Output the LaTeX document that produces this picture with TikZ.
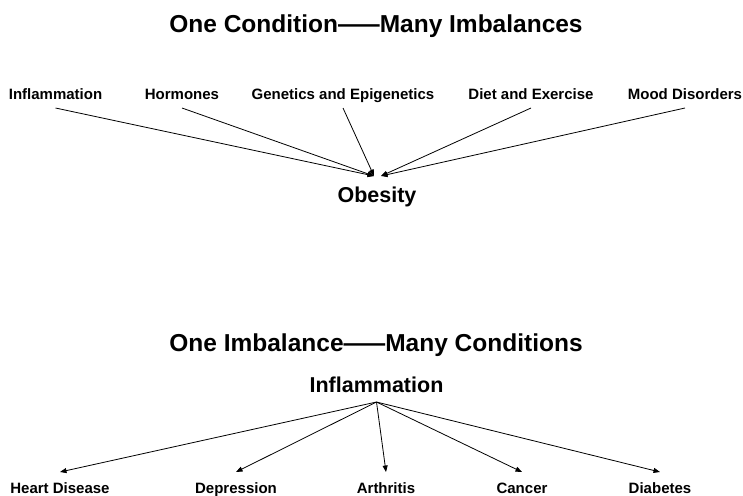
\documentclass[tikz,border=0pt]{standalone}
\usepackage{fontspec}
\setmainfont{Liberation Sans}
\usepackage{graphicx}
\usepackage{tikz}
\usetikzlibrary{arrows.meta}

\newcommand{\wdash}{\scalebox{1.7}[1]{—}}

\begin{document}
\begin{tikzpicture}[x=1pt,y=-1pt,>={Triangle[length=6.5pt,width=5pt]},line join=round,
  title/.style={anchor=base,inner sep=0pt,font=\fontsize{24.5}{28}\selectfont\bfseries},
  hub/.style={anchor=base,inner sep=0pt,text height=15pt,text depth=0pt,
    font=\fontsize{21.5}{25}\selectfont\bfseries},
  leaf/.style={anchor=base,inner sep=0pt,text height=11pt,text depth=0pt,
    font=\fontsize{15}{18}\selectfont\bfseries},
  link/.style={->,line width=0.8pt}]
  \useasboundingbox (0,0) rectangle (743,495);
  % one condition, many imbalances
  \node[title] (title1) at (376,33) {One Condition\wdash Many Imbalances};
  \node[leaf,outer ysep=9pt] (inflam) at (55.5,99) {Inflammation};
  \node[leaf,outer ysep=9pt] (hormon) at (182,99) {Hormones};
  \node[leaf,outer ysep=9pt] (genet) at (343,99) {Genetics and Epigenetics};
  \node[leaf,outer ysep=9pt] (diet) at (531,99) {Diet and Exercise};
  \node[leaf,outer ysep=9pt] (mood) at (685,99) {Mood Disorders};
  \node[hub,outer ysep=11pt] (obesity) at (377,202) {Obesity};
  \coordinate (obL) at ([xshift=-3pt]obesity.north);
  \coordinate (obR) at ([xshift=4pt]obesity.north);
  \foreach \src in {inflam,hormon,genet}
    \draw[link] (\src.south) -- (obL);
  \foreach \src in {diet,mood}
    \draw[link] (\src.south) -- (obR);
  % one imbalance, many conditions
  \node[title] (title2) at (376,351) {One Imbalance\wdash Many Conditions};
  \node[hub,outer ysep=10pt] (inflam2) at (376.5,392) {Inflammation};
  \node[leaf,outer ysep=10pt] (heart) at (60,493) {Heart Disease};
  \node[leaf,outer ysep=10pt] (depress) at (236,493) {Depression};
  \node[leaf,outer ysep=10pt] (arthr) at (386,493) {Arthritis};
  \node[leaf,outer ysep=10pt] (cancer) at (522,493) {Cancer};
  \node[leaf,outer ysep=10pt] (diab) at (660,493) {Diabetes};
  \foreach \dst in {heart,depress,arthr,cancer,diab}
    \draw[link] (inflam2.south) -- (\dst.north);
\end{tikzpicture}
\end{document}
